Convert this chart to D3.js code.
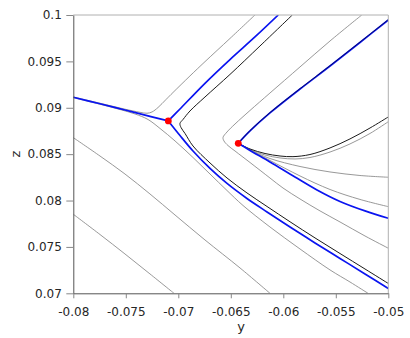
<!DOCTYPE html>
<html>
<head>
<meta charset="utf-8">
<script src="https://cdn.jsdelivr.net/npm/d3@7"></script>
<style>
  html, body { margin: 0; padding: 0; background: #fff; }
  svg { display: block; }
  text { font-family: "DejaVu Sans", sans-serif; }
</style>
</head>
<body>
<svg id="chart" width="410" height="338"></svg>
<script>
// ---- axis ticks ----
const yTicks = [-0.08, -0.075, -0.07, -0.065, -0.06, -0.055, -0.05];
const yTickLabels = ["-0.08", "-0.075", "-0.07", "-0.065", "-0.06", "-0.055", "-0.05"];
const zTicks = [0.07, 0.075, 0.08, 0.085, 0.09, 0.095, 0.1];
const zTickLabels = ["0.07", "0.075", "0.08", "0.085", "0.09", "0.095", "0.1"];

// ---- equilibria (y, z) ----
const equilibria = [[-0.07095, 0.08858], [-0.06429, 0.08617]];

// ---- invariant manifold branches (blue), points as [y, z] ----
const branchW  = [[-0.08, 0.09113], [-0.07746, 0.09043], [-0.07508, 0.08976], [-0.07270, 0.08908], [-0.07095, 0.08858]];
const branchN1 = [[-0.07095, 0.08858], [-0.06984, 0.08987], [-0.06746, 0.09264], [-0.06508, 0.09520], [-0.06270, 0.09763], [-0.06048, 0.1]];
const branchS1 = [[-0.07095, 0.08858], [-0.06984, 0.08701], [-0.06860, 0.08534], [-0.06698, 0.08346], [-0.06536, 0.08184],
                  [-0.06346, 0.08022], [-0.06155, 0.07877], [-0.05936, 0.07715], [-0.05698, 0.07543], [-0.05460, 0.07376],
                  [-0.05222, 0.07209], [-0.05, 0.07052]];
const branchN2 = [[-0.06429, 0.08617], [-0.06317, 0.08750], [-0.06127, 0.08944], [-0.05841, 0.09202], [-0.05555, 0.09450],
                  [-0.05270, 0.09704], [-0.05, 0.09946]];
const branchS2 = [[-0.06429, 0.08617], [-0.06317, 0.08540], [-0.06127, 0.08416], [-0.05889, 0.08254], [-0.05679, 0.08114],
                  [-0.05460, 0.07990], [-0.05222, 0.07888], [-0.05, 0.07809]];

// ---- trajectories (black) ----
const orbitA = [[-0.05914, 0.1], [-0.06222, 0.09666], [-0.06508, 0.09359], [-0.06746, 0.09116], [-0.06889, 0.08965],
                [-0.06955, 0.08874], [-0.06984, 0.08831], [-0.06974, 0.08787], [-0.06936, 0.08723], [-0.06860, 0.08588],
                [-0.06698, 0.08405], [-0.06536, 0.08243], [-0.06346, 0.08082], [-0.06155, 0.07936], [-0.05936, 0.07771],
                [-0.05698, 0.07597], [-0.05460, 0.07429], [-0.05222, 0.07262], [-0.05, 0.07106]];
const orbitB = [[-0.06429, 0.08617], [-0.06317, 0.08556], [-0.06174, 0.08507], [-0.06031, 0.08480], [-0.05908, 0.08473],
                [-0.05746, 0.08496], [-0.05555, 0.08567], [-0.05365, 0.08664], [-0.05174, 0.08782], [-0.05, 0.08901]];
const orbitC = [[-0.06429, 0.08617], [-0.06317, 0.08754], [-0.06127, 0.08948], [-0.05841, 0.09206], [-0.05555, 0.09454],
                [-0.05270, 0.09708], [-0.05, 0.09950]];

// ---- trajectories (grey) ----
const greyOrbits = [
  // upper-left fold
  [[-0.08, 0.09116], [-0.07746, 0.09049], [-0.07508, 0.08985], [-0.07365, 0.08951], [-0.07298, 0.08941], [-0.07250, 0.08955],
   [-0.07193, 0.09003], [-0.07117, 0.09089], [-0.07050, 0.09165], [-0.06889, 0.09343], [-0.06746, 0.09497], [-0.06508, 0.09747],
   [-0.06270, 0.1]],
  // lower-left fold
  [[-0.08, 0.09110], [-0.07746, 0.09038], [-0.07555, 0.08981], [-0.07412, 0.08933], [-0.07289, 0.08874], [-0.07174, 0.08777],
   [-0.07031, 0.08642], [-0.06860, 0.08464], [-0.06698, 0.08286], [-0.06536, 0.08108], [-0.06384, 0.07947], [-0.06127, 0.07715],
   [-0.05841, 0.07478], [-0.05555, 0.07252], [-0.05365, 0.07122], [-0.05193, 0.07]],
  [[-0.08, 0.08678], [-0.07746, 0.08480], [-0.07508, 0.08286], [-0.07270, 0.08071], [-0.07031, 0.07844], [-0.06746, 0.07575],
   [-0.06412, 0.07273], [-0.06127, 0.07]],
  [[-0.08, 0.07852], [-0.07746, 0.07634], [-0.07508, 0.07424], [-0.07270, 0.07209], [-0.07041, 0.07]],
  // fold around the right equilibrium
  [[-0.05253, 0.1], [-0.05555, 0.09720], [-0.05841, 0.09440], [-0.06127, 0.09159], [-0.06317, 0.08971], [-0.06460, 0.08825],
   [-0.06536, 0.08739], [-0.06574, 0.08680], [-0.06565, 0.08642], [-0.06527, 0.08593], [-0.06460, 0.08534], [-0.06317, 0.08410],
   [-0.06127, 0.08243], [-0.06003, 0.08135], [-0.05841, 0.08017], [-0.05650, 0.07888], [-0.05460, 0.07769], [-0.05222, 0.07618],
   [-0.05, 0.07486]],
  // fan leaving the right equilibrium
  [[-0.06429, 0.08617], [-0.06317, 0.08548], [-0.06174, 0.08491], [-0.06031, 0.08459], [-0.05889, 0.08448], [-0.05746, 0.08464],
   [-0.05555, 0.08523], [-0.05365, 0.08610], [-0.05174, 0.08723], [-0.05, 0.08850]],
  [[-0.06429, 0.08617], [-0.06317, 0.08545], [-0.06127, 0.08453], [-0.05841, 0.08367], [-0.05555, 0.08308], [-0.05270, 0.08270],
   [-0.05, 0.08251]],
  [[-0.06429, 0.08617], [-0.06270, 0.08515], [-0.06127, 0.08432], [-0.05841, 0.08265], [-0.05555, 0.08119], [-0.05270, 0.08012],
   [-0.05, 0.07934]]
];

// ---- layout ----
const svg = d3.select("#chart");
const plot = { left: 73.3, top: 15, right: 388.3, bottom: 293.3 };

const x = d3.scaleLinear().domain([-0.08, -0.05]).range([plot.left, plot.right]);
const z = d3.scaleLinear().domain([0.07, 0.1]).range([plot.bottom, plot.top]);

svg.append("defs").append("clipPath").attr("id", "plot-clip")
  .append("rect")
  .attr("x", plot.left).attr("y", plot.top)
  .attr("width", plot.right - plot.left).attr("height", plot.bottom - plot.top);

const line = d3.line()
  .x(d => x(d[0]))
  .y(d => z(d[1]))
  .curve(d3.curveCatmullRom.alpha(0.5));

const g = svg.append("g").attr("clip-path", "url(#plot-clip)");

// grey trajectories
g.selectAll("path.grey").data(greyOrbits).join("path")
  .attr("class", "grey")
  .attr("d", line)
  .attr("fill", "none")
  .attr("stroke", "#8c8c8c")
  .attr("stroke-width", 0.9);

// black trajectories
g.selectAll("path.black").data([orbitA, orbitB]).join("path")
  .attr("class", "black")
  .attr("d", line)
  .attr("fill", "none")
  .attr("stroke", "#1a1a1a")
  .attr("stroke-width", 1);

// manifold branches
g.selectAll("path.blue").data([branchW, branchN1, branchS1, branchN2, branchS2]).join("path")
  .attr("class", "blue")
  .attr("d", line)
  .attr("fill", "none")
  .attr("stroke", "#0a14f0")
  .attr("stroke-width", 1.7);

// trajectory hugging the north-east branch
g.append("path")
  .attr("d", line(orbitC))
  .attr("fill", "none")
  .attr("stroke", "#000")
  .attr("stroke-opacity", 0.6)
  .attr("stroke-width", 0.9);

// equilibria
svg.selectAll("circle.eq").data(equilibria).join("circle")
  .attr("class", "eq")
  .attr("cx", d => x(d[0]))
  .attr("cy", d => z(d[1]))
  .attr("r", 3.4)
  .attr("fill", "#ff0000");

// ---- frame ----
svg.append("line")
  .attr("x1", plot.left).attr("x2", plot.right)
  .attr("y1", plot.top).attr("y2", plot.top)
  .attr("stroke", "#b0b0b0").attr("stroke-width", 1);
svg.append("line")
  .attr("x1", plot.right).attr("x2", plot.right)
  .attr("y1", plot.top).attr("y2", plot.bottom)
  .attr("stroke", "#b0b0b0").attr("stroke-width", 1);

// ---- axes ----
const xAxis = d3.axisBottom(x)
  .tickValues(yTicks)
  .tickFormat((d, i) => yTickLabels[i])
  .tickSize(5)
  .tickSizeOuter(0)
  .tickPadding(9.5);

const zAxis = d3.axisLeft(z)
  .tickValues(zTicks)
  .tickFormat((d, i) => zTickLabels[i])
  .tickSize(7)
  .tickSizeOuter(0)
  .tickPadding(4.5);

const gx = svg.append("g").attr("transform", `translate(0,${plot.bottom})`).call(xAxis);
const gz = svg.append("g").attr("transform", `translate(${plot.left},0)`).call(zAxis);

[gx, gz].forEach(a => {
  a.select(".domain").attr("stroke", "#555").attr("stroke-width", 1);
  a.selectAll(".tick line").attr("stroke", "#888");
  a.selectAll(".tick text")
    .attr("fill", "#262626")
    .style("font-family", "'DejaVu Sans', sans-serif")
    .style("font-size", "12px");
});

// axis titles
svg.append("text")
  .attr("x", 241).attr("y", 330.5)
  .attr("text-anchor", "middle")
  .attr("fill", "#262626")
  .style("font-size", "13px")
  .text("y");

svg.append("text")
  .attr("transform", `translate(20,${(plot.top + plot.bottom) / 2}) rotate(-90)`)
  .attr("text-anchor", "middle")
  .attr("fill", "#262626")
  .style("font-size", "13px")
  .text("z");
</script>
</body>
</html>
